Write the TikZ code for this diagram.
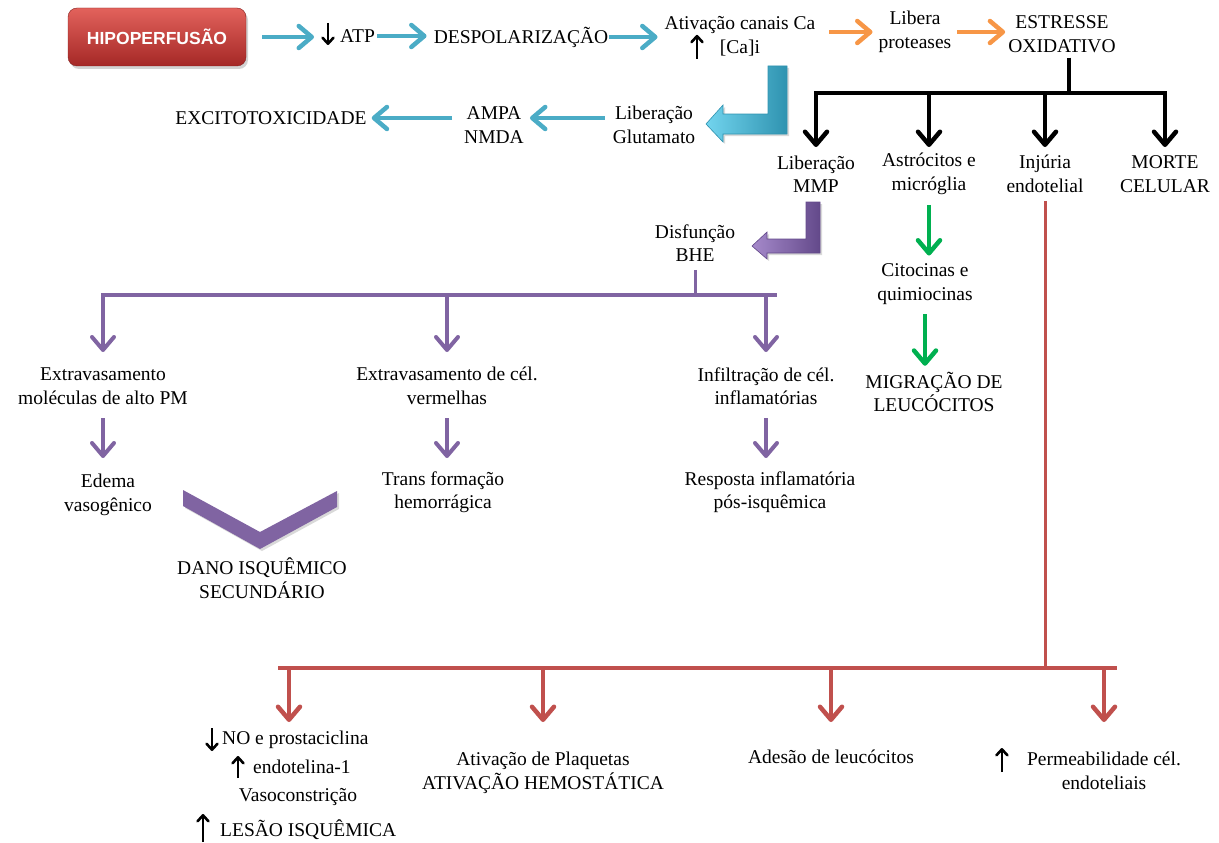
\documentclass[tikz,border=0pt]{standalone}
\usepackage{fontspec}
\setmainfont{Liberation Serif}
\newfontfamily\titlefont{Liberation Sans}
\usetikzlibrary{arrows.meta,shadows}

\definecolor{azul}{HTML}{4BACC6}
\definecolor{azulclaro}{HTML}{72D4EE}
\definecolor{azulescuro}{HTML}{2F93B0}
\definecolor{laranja}{HTML}{F79646}
\definecolor{roxo}{HTML}{8064A2}
\definecolor{roxoclaro}{HTML}{A68ACB}
\definecolor{roxoescuro}{HTML}{63498A}
\definecolor{verde}{HTML}{00B050}
\definecolor{vermelho}{HTML}{C0504D}
\definecolor{caixatopo}{HTML}{E2625C}
\definecolor{caixabase}{HTML}{A52826}

\begin{document}
\begin{tikzpicture}[x=1pt, y=-1pt,
    texto/.style={align=center, inner sep=0pt, font=\fontsize{19.5}{23.5}\selectfont},
    seta/.style={line width=4.5pt, -{Straight Barb[length=13pt,width=22pt,round]}},
    setafina/.style={line width=2.6pt, -{Straight Barb[length=6pt,width=11pt,round]}},
    galho/.style={line width=4.5pt, line cap=rect},
    caixa/.style={rounded corners=9pt, minimum width=178pt, minimum height=58pt,
        top color=caixatopo, bottom color=caixabase, draw=caixabase!80!black,
        text=white, font=\titlefont\bfseries\fontsize{17.5}{20}\selectfont,
        drop shadow={shadow xshift=2pt, shadow yshift=-3pt, opacity=.35}},
    bloco/.style={line width=0.6pt, drop shadow={shadow xshift=2pt, shadow yshift=-2pt, opacity=.3}}]

    % 領域の固定
    \useasboundingbox (0,0) rectangle (1219,843);

    % 上段のノード
    \node[caixa] (hipo) at (157,37) {HIPOPERFUSÃO};
    \node[texto, anchor=west] (atp) at (340,36) {ATP};
    \node[texto] (despol) at (521,37) {DESPOLARIZAÇÃO};
    \node[texto] (ativ) at (740,36) {Ativação canais Ca\\{}[Ca]i};
    \node[texto] (libera) at (915,32) {Libera\\proteases};
    \node[texto] (estresse) at (1062,34) {ESTRESSE\\OXIDATIVO};

    \node[texto] (excito) at (271,118) {EXCITOTOXICIDADE};
    \node[texto] (ampa) at (494,125) {AMPA\\NMDA};
    \node[texto] (glut) at (654,125) {Liberação\\Glutamato};

    \node[texto] (mmp) at (816,174) {Liberação\\MMP};
    \node[texto] (astro) at (929,174) {Astrócitos e\\micróglia};
    \node[texto] (injuria) at (1045,174) {Injúria\\endotelial};
    \node[texto] (morte) at (1165,174) {MORTE\\CELULAR};

    % 中段のノード
    \node[texto] (bhe) at (695,243) {Disfunção\\BHE};
    \node[texto] (extra1) at (103,386) {Extravasamento\\moléculas de alto PM};
    \node[texto] (extra2) at (447,386) {Extravasamento de cél.\\vermelhas};
    \node[texto] (infil) at (766,386) {Infiltração de cél.\\inflamatórias};
    \node[texto] (edema) at (108,495) {Edema\\vasogênico};
    \node[texto] (trans) at (443,492) {Trans formação\\hemorrágica};
    \node[texto] (resposta) at (770,492) {Resposta inflamatória\\pós-isquêmica};
    \node[texto] (dano) at (262,578) {DANO ISQUÊMICO\\SECUNDÁRIO};
    \node[texto] (citoc) at (925,284) {Citocinas e\\quimiocinas};
    \node[texto] (migr) at (934,392) {MIGRAÇÃO DE\\LEUCÓCITOS};

    % 下段のノード
    \node[texto, anchor=west] (no) at (222,740) {NO e prostaciclina};
    \node[texto, anchor=west] (endo) at (253,767) {endotelina-1};
    \node[texto] (vaso) at (298,797) {Vasoconstrição};
    \node[texto, anchor=west] (lesao) at (220,830) {LESÃO ISQUÊMICA};
    \node[texto] (plaq) at (543,773) {Ativação de Plaquetas\\ATIVAÇÃO HEMOSTÁTICA};
    \node[texto] (adesao) at (831,757) {Adesão de leucócitos};
    \node[texto] (perm) at (1104,771) {Permeabilidade cél.\\endoteliais};

    % 青と橙の矢印
    \draw[seta, azul, shorten <=16pt, shorten >=26pt] (hipo.east) -- (hipo.east -| atp.west);
    \draw[seta, azul, shorten <=2pt, shorten >=7pt] (atp.east) -- (atp.east -| despol.west);
    \draw[seta, azul, shorten <=1pt, shorten >=7pt] (despol.east) -- (despol.east -| ativ.west);
    \draw[seta, laranja, shorten <=14pt, shorten >=6pt] (ativ.east |- libera.west) -- (libera.west);
    \draw[seta, laranja, shorten <=6pt, shorten >=3pt] (libera.east) -- (libera.east -| estresse.west);
    \draw[seta, azul, shorten <=8pt, shorten >=6pt] ([yshift=7pt]glut.west) -- ([yshift=7pt]ampa.east);
    \draw[seta, azul, shorten <=12pt, shorten >=5pt] (ampa.west |- excito.east) -- (excito.east);

    % 小さい黒矢印
    \draw[setafina] ([xshift=-12pt,yshift=13pt]atp.west) -- ([xshift=-12pt,yshift=-9pt]atp.west);
    \draw[setafina] ([xshift=-43pt,yshift=-3pt]ativ.south) -- ([xshift=-43pt,yshift=21pt]ativ.south);
    \draw[setafina] ([xshift=-10pt,yshift=12pt]no.west) -- ([xshift=-10pt,yshift=-11pt]no.west);
    \draw[setafina] ([xshift=-15pt,yshift=-11pt]endo.west) -- ([xshift=-15pt,yshift=11pt]endo.west);
    \draw[setafina] ([xshift=-17pt,yshift=-12pt]lesao.west) -- ([xshift=-17pt,yshift=16pt]lesao.west);
    \draw[setafina] ([xshift=-25pt,yshift=-1pt]perm.west) -- ([xshift=-25pt,yshift=23pt]perm.west);

    % 折れ曲がった太い矢印
    \path[bloco, draw=azulescuro, left color=azulclaro, right color=azulescuro]
    (768,66) -- (787,66) -- (787,134) -- (723,134) -- (723,142) -- (706,124)
    -- (723,105) -- (723,114) -- (768,114) -- cycle;
    \path[bloco, draw=roxoescuro, left color=roxoclaro, right color=roxoescuro]
    (806,202) -- (820,202) -- (820,253) -- (767,253) -- (767,259) -- (752,246)
    -- (767,232) -- (767,239) -- (806,239) -- cycle;

    % 黒い枝分かれ
    \coordinate (juncao) at (1069,93);
    \coordinate (pontapreta) at (0,147);
    \draw[line width=4.5pt, shorten <=5pt] (estresse.south -| juncao) -- (juncao);
    \draw[galho] (mmp.north |- juncao) -- (morte.north |- juncao);
    \foreach \n in {mmp,astro,injuria,morte}
    \draw[seta, black] (\n.north |- juncao) -- (\n.north |- pontapreta);

    % 紫の枝分かれ
    \coordinate (ramo) at (694,295);
    \coordinate (pontaroxa) at (0,352);
    \coordinate (roxoa) at (0,418);
    \coordinate (roxob) at (0,458);
    \draw[roxo, line width=3pt, shorten <=8pt] (bhe.south) -- (bhe.south |- ramo);
    \draw[galho, roxo, line width=4pt] (extra1.north |- ramo) -- (infil.north |- ramo) -- ++(9,0);
    \foreach \n in {extra1,extra2,infil}
    \draw[seta, roxo, line width=4pt] (\n.north |- ramo) -- (\n.north |- pontaroxa);
    \foreach \n in {extra1,extra2,infil}
    \draw[seta, roxo, line width=4pt] (\n.south |- roxoa) -- (\n.south |- roxob);

    % V字
    \path[bloco, fill=roxo] (183,490) -- (260,532) -- (337,491) -- (337,507)
    -- (260,549) -- (183,506) -- cycle;

    % 緑の矢印
    \draw[seta, verde, shorten <=10pt, shorten >=8pt] (astro.south) -- (astro.south |- citoc.north);
    \draw[seta, verde, shorten <=10pt, shorten >=6pt] (citoc.south) -- (citoc.south |- migr.north);

    % 赤の枝分かれ
    \coordinate (juncaov) at (1047,668);
    \coordinate (pontaverm) at (0,722);
    \coordinate (colno) at (289,0);
    \draw[vermelho, line width=3pt, shorten <=8pt] (injuria.south) -- (injuria.south |- juncaov);
    \draw[galho, vermelho] (colno |- juncaov) ++(-9,0) -- (perm.north |- juncaov) -- ++(11,0);
    \draw[seta, vermelho] (colno |- juncaov) -- (colno |- pontaverm);
    \foreach \n in {plaq,adesao,perm}
    \draw[seta, vermelho] (\n.north |- juncaov) -- (\n.north |- pontaverm);

\end{tikzpicture}
\end{document}
